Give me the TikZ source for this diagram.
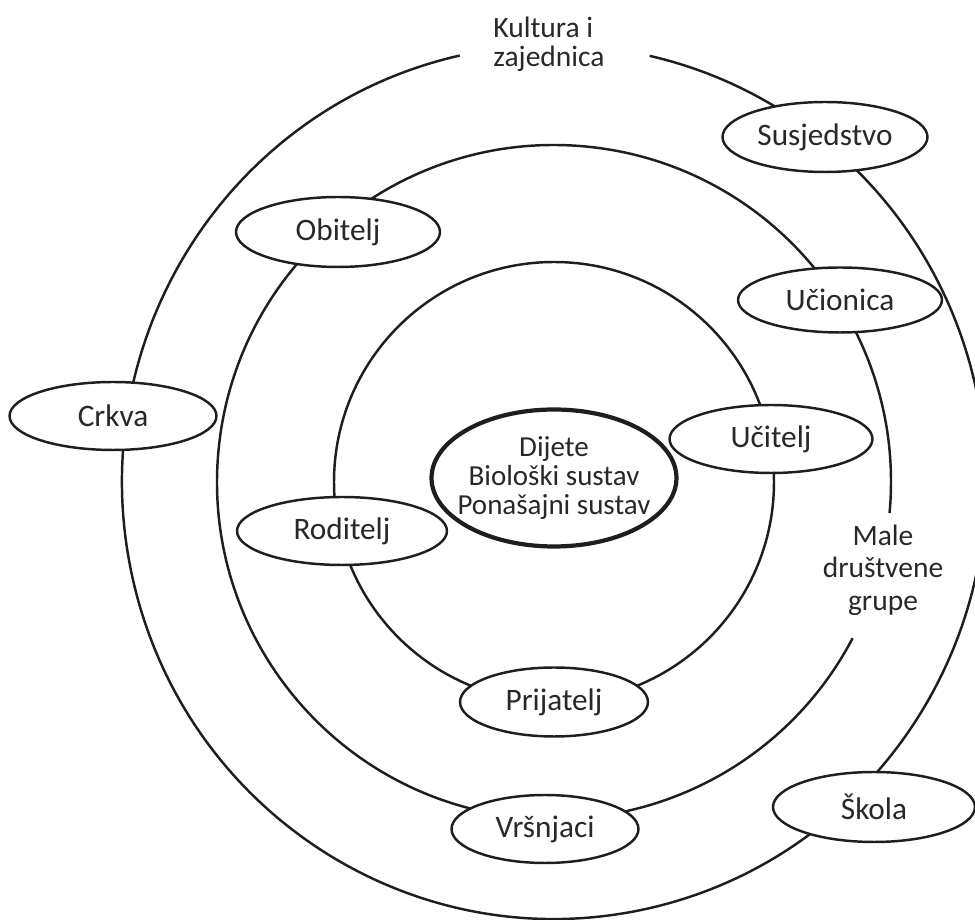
\documentclass[tikz,border=0pt]{standalone}
\usepackage{fontspec}
\setmainfont{Carlito}
\usepackage{tikz}
\usetikzlibrary{shapes.geometric}
\definecolor{myink}{RGB}{30,30,30}
\definecolor{mytext}{RGB}{40,40,40}
\tikzset{
  ring/.style={line width=1.4pt, color=myink},
  bubble/.style={ellipse, draw=myink, fill=white, line width=1.4pt,
    inner xsep=-10pt, inner ysep=0pt, text=mytext,
    font=\fontsize{17.8}{18}\selectfont},
  core/.style={ellipse, draw=myink, fill=white, line width=2.4pt,
    inner xsep=-10pt, inner ysep=0pt, text=mytext, align=center,
    font=\fontsize{16.5}{16.5}\selectfont},
  tag/.style={text=mytext, font=\fontsize{16.8}{16.5}\selectfont}
}

\begin{document}
\begin{tikzpicture}[x=0.02cm, y=0.02cm]
  \useasboundingbox (0,0) rectangle (975,920);
  \coordinate (mid) at (554,438);

  % rings
  \draw[ring] (mid) circle (220);
  \draw[ring] (mid) ++(-5.3:337) arc[start angle=-5.3, end angle=332.4, radius=337];
  \draw[ring] (mid) ++({432*cos(102.6)},{437*sin(102.6)})
    arc[start angle=102.6, end angle=437.2, x radius=432, y radius=437];

  % ring labels
  \node[tag, align=left] (kultura) at (549,876) {Kultura i\\zajednica};
  \node[tag, align=center, font=\fontsize{16.8}{18.5}\selectfont] (male) at (883,350) {Male\\društvene\\grupe};

  % child
  \node[core, minimum width=4.9cm, minimum height=2.74cm] (child) at (554,442)
    {Dijete\\Biološki sustav\\Ponašajni sustav};

  % inner ring
  \node[bubble, minimum width=4.06cm, minimum height=1.36cm] (ucitelj) at (771,481) {Učitelj};
  \node[bubble, minimum width=4.2cm, minimum height=1.36cm] (roditelj) at (342,389) {Roditelj};
  \node[bubble, minimum width=3.76cm, minimum height=1.38cm] (prijatelj) at (554,218) {Prijatelj};

  % middle ring
  \node[bubble, minimum width=4.08cm, minimum height=1.4cm] (obitelj) at (338,688) {Obitelj};
  \node[bubble, minimum width=4.08cm, minimum height=1.3cm] (ucionica) at (840,620) {Učionica};
  \node[bubble, minimum width=3.74cm, minimum height=1.36cm] (vrsnjaci) at (545,91) {Vršnjaci};

  % outer ring
  \node[bubble, minimum width=4.1cm, minimum height=1.4cm] (susjedstvo) at (825,783) {Susjedstvo};
  \node[bubble, minimum width=4.14cm, minimum height=1.36cm] (crkva) at (113,504) {Crkva};
  \node[bubble, minimum width=4.04cm, minimum height=1.4cm] (skola) at (874,113) {Škola};
\end{tikzpicture}
\end{document}
